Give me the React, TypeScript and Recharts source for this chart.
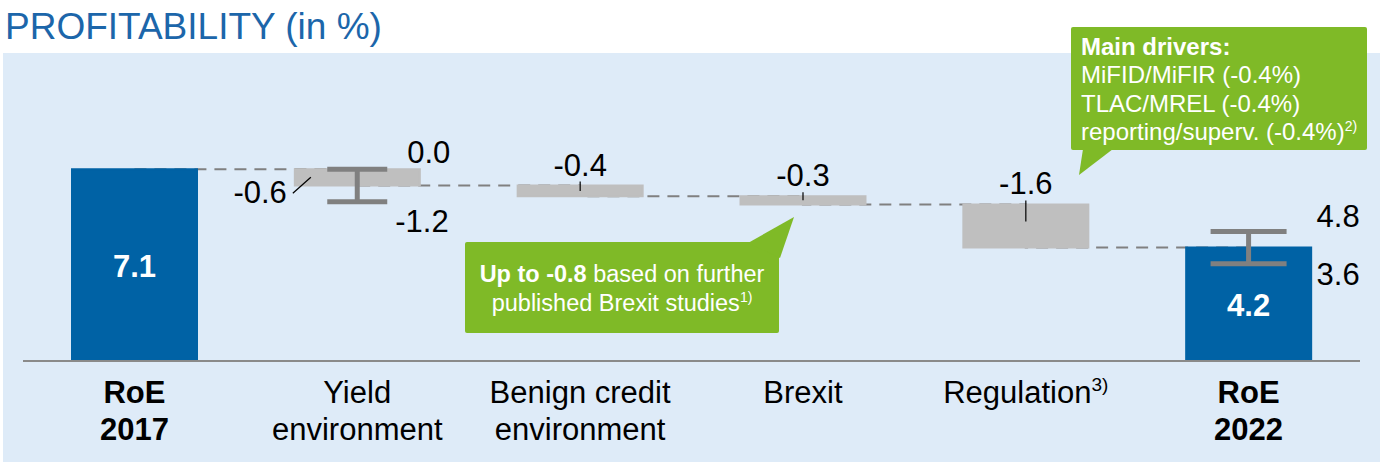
import { ComposedChart, Bar, Line, XAxis, YAxis, Cell, LabelList, ErrorBar } from "recharts";

const FONT = '"Liberation Sans", Arial, sans-serif';

// categories and tick labels
const categories = ["RoE 2017", "Yield environment", "Benign credit environment", "Brexit", "Regulation", "RoE 2022"];
const tickLines = [["RoE", "2017"], ["Yield", "environment"], ["Benign credit", "environment"], ["Brexit"], ["Regulation"], ["RoE", "2022"]];
const tickNotes = ["", "", "", "", "3)", ""];

// values: totals are absolute, the rest are changes
const isTotal = [true, false, false, false, false, true];
const values = [7.1, -0.6, -0.4, -0.3, -1.6, 4.2];

// ranges (change for steps, absolute for totals)
const rangeLow: (number | null)[] = [null, -1.2, null, null, null, 3.6];
const rangeHigh: (number | null)[] = [null, 0.0, null, null, null, 4.8];

const BLUE = "#0062a5";
const GREY_BOX = "#bfbfbf";
const GREY_LINE = "#808080";
const GREEN = "#7fba27";

let running = 0;
const rows = categories.map((name, i) => {
  const prev = running;
  let base: number;
  let size: number;
  if (isTotal[i]) {
    base = 0;
    size = values[i];
    running = values[i];
  } else {
    running = prev + values[i];
    base = Math.min(prev, running);
    size = Math.abs(values[i]);
  }
  const ref = isTotal[i] ? 0 : prev;
  const lowV = rangeLow[i];
  const highV = rangeHigh[i];
  const hi = highV == null ? undefined : ref + highV;
  const lo = lowV == null ? undefined : ref + lowV;
  const err = hi != null && lo != null ? [hi - lo, 0] : undefined;
  return {
    name,
    base,
    size,
    level: running,
    hi,
    lo,
    errStep: isTotal[i] ? undefined : err,
    errTotal: isTotal[i] ? err : undefined,
  };
});

const fmt = (v: number) => v.toFixed(1);

const CategoryTick = (props: any) => {
  const { x, y, payload } = props;
  const i = categories.indexOf(payload.value);
  if (i < 0) return null;
  return (
    <text textAnchor="middle" fontFamily={FONT} fontSize={31} fill="#000" fontWeight={isTotal[i] ? 700 : 400}>
      {tickLines[i].map((ln, k) => (
        <tspan key={k} x={x} y={y + 42 + k * 37}>
          {ln}
          {k === 0 && tickNotes[i] ? (
            <tspan fontSize={19} dy={-12}>{tickNotes[i]}</tspan>
          ) : null}
        </tspan>
      ))}
    </text>
  );
};

const BarValueLabel = (props: any) => {
  const vb = props.viewBox ?? props;
  const { x, y, width, height } = vb;
  const i = props.index;
  if (i == null || x == null) return null;
  const cx = x + width / 2;
  if (isTotal[i]) {
    return (
      <text x={cx} y={y + height / 2 + 12} textAnchor="middle" fontFamily={FONT} fontSize={31} fontWeight={700} fill="#fff">
        {fmt(values[i])}
      </text>
    );
  }
  if (rangeLow[i] != null) {
    return (
      <g>
        <line x1={x - 2} y1={y + 24} x2={x + 16} y2={y + 8} stroke="#000" strokeWidth={1.2} />
        <text x={x - 8} y={y + height + 17} textAnchor="end" fontFamily={FONT} fontSize={31} fill="#000">
          {fmt(values[i])}
        </text>
      </g>
    );
  }
  return (
    <g>
      <line x1={cx} y1={y - 4} x2={cx} y2={y + Math.min(height / 2, 17)} stroke="#000" strokeWidth={1.2} />
      <text x={cx} y={y - 10} textAnchor="middle" fontFamily={FONT} fontSize={31} fill="#000">
        {fmt(values[i])}
      </text>
    </g>
  );
};

const makeRangeLabel = (which: "hi" | "lo") => (props: any) => {
  const vb = props.viewBox ?? props;
  const x = vb.x ?? props.x;
  const y = vb.y ?? props.y;
  const i = props.index;
  if (i == null || x == null || y == null) return null;
  const v = which === "hi" ? rangeHigh[i] : rangeLow[i];
  if (v == null) return null;
  let dx: number;
  let dy: number;
  if (isTotal[i]) {
    dx = 68;
    dy = which === "hi" ? -4 : 21;
  } else {
    dx = which === "hi" ? 50 : 38;
    dy = which === "hi" ? -6 : 30;
  }
  return (
    <text x={x + dx} y={y + dy} textAnchor="start" fontFamily={FONT} fontSize={31} fill="#000">
      {fmt(v)}
    </text>
  );
};

function Overlay() {
  return (
    <svg width={1380} height={462} style={{ position: "absolute", left: 0, top: 0, pointerEvents: "none" }}>
      <text x={5} y={39} fontFamily={FONT} fontSize={37} fill="#1c66aa">
        PROFITABILITY (in %)
      </text>

      {/* Brexit callout */}
      <rect x={465} y={242} width={314} height={91} rx={2} fill={GREEN} />
      <polygon points="748,243 794,217 780,258" fill={GREEN} />
      <text x={622} y={282} textAnchor="middle" fontFamily={FONT} fontSize={23.5} fill="#fff">
        <tspan fontWeight={700}>Up to -0.8</tspan>
        <tspan> based on further</tspan>
      </text>
      <text x={622} y={311} textAnchor="middle" fontFamily={FONT} fontSize={23.5} fill="#fff">
        published Brexit studies
        <tspan fontSize={14} dy={-9}>1)</tspan>
      </text>

      {/* Regulation callout */}
      <rect x={1071} y={27} width={296} height={123} rx={2} fill={GREEN} />
      <polygon points="1083,149 1113,149 1079,175" fill={GREEN} />
      <text fontFamily={FONT} fontSize={24} fill="#fff">
        <tspan x={1081} y={55} fontWeight={700}>Main drivers:</tspan>
        <tspan x={1081} y={83}>MiFID/MiFIR (-0.4%)</tspan>
        <tspan x={1081} y={112}>TLAC/MREL (-0.4%)</tspan>
        <tspan x={1081} y={140}>reporting/superv. (-0.4%)</tspan>
        <tspan fontSize={14} dy={-9}>2)</tspan>
      </text>
    </svg>
  );
}

export default function App() {
  return (
    <div style={{ position: "absolute", left: 0, top: 0, width: 1380, height: 462, background: "#fff", overflow: "hidden" }}>
      <div style={{ position: "absolute", left: 3, top: 53, width: 1377, height: 409, background: "#deebf8" }} />
      <div style={{ position: "absolute", left: 0, top: 0 }}>
        <ComposedChart width={1380} height={462} data={rows} margin={{ top: 91, right: 20, bottom: 0, left: 23 }}>
          <XAxis
            dataKey="name"
            height={101}
            tickSize={0}
            tickMargin={0}
            tickLine={false}
            axisLine={{ stroke: "#8a8a8a", strokeWidth: 2 }}
            tick={<CategoryTick />}
            interval={0}
          />
          <YAxis hide type="number" domain={[0, 10]} allowDataOverflow />
          <Line
            dataKey="level"
            type="stepAfter"
            stroke={GREY_LINE}
            strokeWidth={2}
            strokeDasharray="12 8"
            dot={false}
            activeDot={false}
            isAnimationActive={false}
            zIndex={200}
          />
          <Bar dataKey="base" stackId="w" fill="transparent" barSize={125} isAnimationActive={false} />
          <Bar dataKey="size" stackId="w" barSize={125} isAnimationActive={false}>
            {rows.map((_, i) => (
              <Cell
                key={i}
                fill={isTotal[i] ? BLUE : GREY_BOX}
                stroke={isTotal[i] ? BLUE : GREY_BOX}
                strokeWidth={2}
              />
            ))}
            <LabelList dataKey="size" content={<BarValueLabel />} />
          </Bar>
          <Line dataKey="hi" stroke="none" dot={false} activeDot={false} isAnimationActive={false}>
            <ErrorBar dataKey="errStep" width={30} stroke={GREY_LINE} strokeWidth={5} direction="y" />
            <ErrorBar dataKey="errTotal" width={38} stroke={GREY_LINE} strokeWidth={5} direction="y" />
            <LabelList dataKey="hi" content={makeRangeLabel("hi")} />
          </Line>
          <Line dataKey="lo" stroke="none" dot={false} activeDot={false} isAnimationActive={false}>
            <LabelList dataKey="lo" content={makeRangeLabel("lo")} />
          </Line>
        </ComposedChart>
      </div>
      <Overlay />
    </div>
  );
}
